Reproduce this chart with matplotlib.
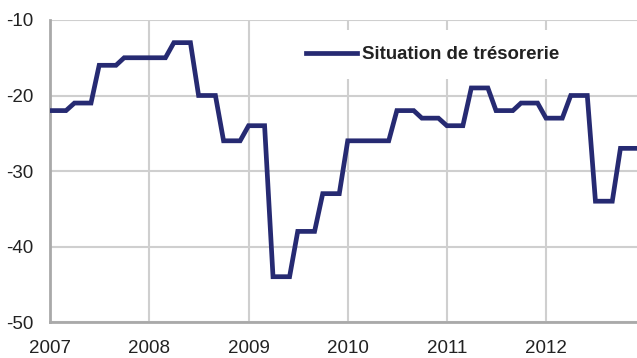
import matplotlib
matplotlib.use('Agg')
import matplotlib.dates as mdates
import matplotlib.pyplot as plt
import pandas as pd

# monthly values (each quarter is held for three months)
months = pd.date_range('2007-01-01', periods=72, freq='MS')
tresorerie = [
    -22, -22, -22, -21, -21, -21, -16, -16, -16, -15, -15, -15,  # 2007
    -15, -15, -15, -13, -13, -13, -20, -20, -20, -26, -26, -26,  # 2008
    -24, -24, -24, -44, -44, -44, -38, -38, -38, -33, -33, -33,  # 2009
    -26, -26, -26, -26, -26, -26, -22, -22, -22, -23, -23, -23,  # 2010
    -24, -24, -24, -19, -19, -19, -22, -22, -22, -21, -21, -21,  # 2011
    -23, -23, -23, -20, -20, -20, -34, -34, -34, -27, -27, -27,  # 2012
]
series_label = 'Situation de trésorerie'
y_ticks = [-50, -40, -30, -20, -10]

plt.rcParams['font.family'] = ['Liberation Sans', 'DejaVu Sans']
plt.rcParams['axes.unicode_minus'] = False

fig = plt.figure(figsize=(6.37, 3.58), dpi=100)
ax = fig.add_axes([50 / 637, 1 - 322 / 358, 587 / 637, 302 / 358])

ax.plot(months, tresorerie, color='#262a72', linewidth=3.4,
        solid_joinstyle='miter', label=series_label, zorder=3)

ax.set_xlim(months[0], months[-1])
ax.set_ylim(-50, -10)
ax.set_yticks(y_ticks)
ax.xaxis.set_major_locator(mdates.YearLocator())
ax.xaxis.set_major_formatter(mdates.DateFormatter('%Y'))

ax.grid(True, color='#cfcfcf', linewidth=1.5)
ax.set_axisbelow(True)
for side in ['top', 'right']:
    ax.spines[side].set_visible(False)
for side in ['left', 'bottom']:
    ax.spines[side].set_color('#a9a9a9')
    ax.spines[side].set_linewidth(2.0)

ax.tick_params(axis='both', length=0, labelsize=13.5, colors='#222222')
ax.tick_params(axis='x', pad=13)
ax.tick_params(axis='y', pad=12)

leg = ax.legend(loc='upper left', bbox_to_anchor=(0.393, 0.997), frameon=True,
                handlelength=2.75, handletextpad=0.25, borderpad=0.85,
                prop={'weight': 'bold', 'size': 13.4})
leg.get_frame().set_facecolor('white')
leg.get_frame().set_edgecolor('none')
leg.get_frame().set_alpha(1.0)
leg.get_frame().set_boxstyle('square', pad=0)
for t in leg.get_texts():
    t.set_color('#222222')

fig.savefig('out.png', dpi=100)
